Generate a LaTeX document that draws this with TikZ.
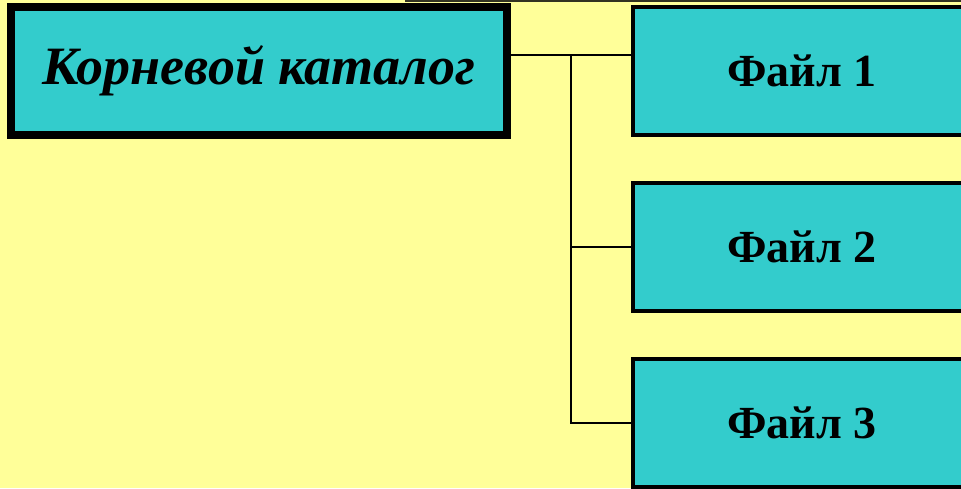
\documentclass[tikz,border=0pt]{standalone}
\usepackage{fontspec}
\setmainfont{Liberation Serif}
\usepackage{xcolor}
\definecolor{dirYellow}{RGB}{255, 255, 153}
\definecolor{dirCyan}{RGB}{51, 204, 204}
\definecolor{dirEdge}{RGB}{51, 51, 34}
\usepackage{tikz}
\usetikzlibrary{positioning, calc}

\begin{document}
\begin{tikzpicture}[
    x=1pt, y=-1pt,
    rootBox/.style={
        rectangle, draw=black, line width=8pt,
        fill=dirCyan, text=black,
        font=\fontsize{54}{60}\selectfont\bfseries\itshape,
        minimum width=496pt, minimum height=128pt, inner sep=0pt
    },
    fileBox/.style={
        rectangle, draw=black, line width=4.5pt,
        fill=dirCyan, text=black,
        font=\fontsize{46}{50}\selectfont\bfseries,
        minimum width=338pt, minimum height=128pt, inner sep=0pt
    },
    treeLink/.style={
        draw=black, line width=2pt
    }
]

    % Page and background
    \useasboundingbox (0,0) rectangle (961,488);
    \clip (0,0) rectangle (961,488);
    \fill[dirYellow] (0,0) rectangle (961,488);
    \draw[dirEdge, line width=2pt] (405,1) -- (961,1);

    % Catalogue tree
    \node[rootBox] (root) at (259,71) {Корневой каталог};
    \node[fileBox] (file1) at (802,71) {Файл 1};
    \node[fileBox] (file2) at (802,247) {Файл 2};
    \node[fileBox] (file3) at (802,423) {Файл 3};

    % Connecting lines
    \coordinate (fork) at (571,55);
    \draw[treeLink] (root.east |- fork) -- (file1.west |- fork);
    \draw[treeLink] (fork) -- (fork |- file3.west) -- (file3.west);
    \draw[treeLink] (fork |- file2.west) -- (file2.west);

\end{tikzpicture}
\end{document}
